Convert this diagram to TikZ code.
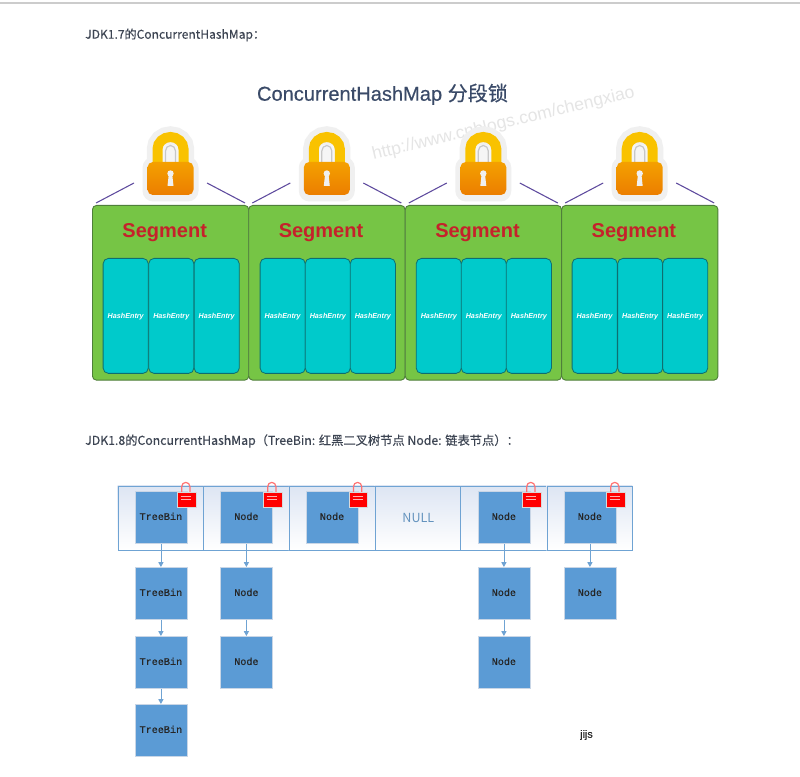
\documentclass[tikz,border=0pt]{standalone}
\usepackage{fontspec}
\setmainfont{Noto Sans CJK SC}
\newfontfamily\hfont{Liberation Sans}
\newfontfamily\tfont[FakeBold=0.35]{Liberation Sans}
\newfontfamily\mfont[FakeBold=0.1]{Liberation Mono}
\newfontfamily\cfont{Noto Sans CJK SC}
\newfontfamily\cbfont[FakeBold=0.35]{Noto Sans CJK SC}
\newfontfamily\dfont[FakeBold=0.3]{Noto Sans CJK SC}
\usetikzlibrary{arrows.meta}
\definecolor{segG}{HTML}{76C545}
\definecolor{segE}{HTML}{4F7F3A}
\definecolor{entC}{HTML}{00CACB}
\definecolor{entE}{HTML}{0F6E70}
\definecolor{segT}{HTML}{C5222B}
\definecolor{titleC}{HTML}{3A4A68}
\definecolor{purp}{HTML}{5E4A9E}
\definecolor{bluN}{HTML}{5B9BD5}
\definecolor{bluL}{HTML}{6FA3D3}
\definecolor{bluE}{HTML}{C9D6E6}
\definecolor{bluP}{HTML}{DDE5F3}
\definecolor{headT}{HTML}{3C4452}
\definecolor{lockA}{HTML}{F9C200}
\definecolor{lockB}{HTML}{F4A000}
\definecolor{lockC}{HTML}{EC7E00}
\tikzset{
  x=0.75pt,y=-0.75pt,
  headtext/.style={anchor=west,inner sep=0pt,text=headT,font=\dfont\fontsize{9.2}{10}\selectfont},
  segbox/.style={draw=segE,line width=0.7pt,fill=segG,rounded corners=3pt,minimum width=117.2pt,minimum height=131pt,inner sep=0pt,anchor=north west},
  segtext/.style={text=segT,inner sep=0pt,font=\hfont\bfseries\fontsize{15}{16}\selectfont},
  entbox/.style={draw=entE,line width=0.6pt,fill=entC,rounded corners=4pt,minimum width=33.9pt,minimum height=86.25pt,inner sep=0pt,anchor=north west},
  enttext/.style={text=white,inner sep=0pt,yshift=-0.7pt,font=\hfont\bfseries\itshape\fontsize{5.4}{6}\selectfont},
  tiepart/.style={draw=purp,line width=0.8pt},
  cellbox/.style={draw=bluL,line width=0.7pt,minimum width=64.3pt,minimum height=48.4pt,inner sep=0pt,anchor=north west},
  nodebox/.style={draw=bluE,line width=0.6pt,fill=bluN,minimum width=39pt,minimum height=39pt,inner sep=0pt,anchor=north west,text=black!85,text height=3.8pt,text depth=0pt,font=\mfont\fontsize{7.6}{8}\selectfont},
  link/.style={draw=bluL,line width=0.6pt,-{Triangle[length=3.6pt,width=3.8pt]}},
  redlock/.style={draw=white!85!black,line width=0.5pt,fill=red,minimum width=14pt,minimum height=11.6pt,inner sep=0pt,anchor=north west},
}
\begin{document}
\begin{tikzpicture}
\useasboundingbox (0,0) rectangle (800,777);
\fill[white] (0,0) rectangle (800,777);
\fill[black!20] (0,2.5) rectangle (800,4);

\node[headtext,font=\dfont\fontsize{9.05}{10}\selectfont] (h1) at (85,35) {JDK1.7的ConcurrentHashMap：};
\node[inner sep=0pt,text=titleC,font=\tfont\fontsize{15.05}{17}\selectfont] (title) at (382.5,94.3) {ConcurrentHashMap {\cbfont 分段锁}};
\node[rotate=13.4,inner sep=0pt,text=black!10,font=\hfont\fontsize{13.15}{14}\selectfont] (mark) at (503.5,124) {http://www.cnblogs.com/chengxiao};

% segments
\foreach \n/\sx in {1/92,2/248.3,3/404.8,4/561.2}{
  \node[segbox] (seg\n) at (\sx,205) {};
  \node[segtext] (segt\n) at (\sx+72.7,233) {Segment};
  \draw[tiepart] (\sx+4,203) -- (\sx+42,183);
  \draw[tiepart] (\sx+115,183) -- (\sx+153,203);
  % padlock
  \begin{scope}[shift={(\sx+78.5,0)}]
    \draw[line width=16pt,black!6] (-13,165) -- (-13,149) arc[start angle=180,end angle=360,x radius=13,y radius=12] -- (13,165);
    \fill[black!6,rounded corners=8pt] (-28,157) rectangle (28,201.5);
    \fill[black!4] (-10,165) rectangle (10,145);
    \draw[line width=7.5pt,lockA] (-13,165) -- (-13,149) arc[start angle=180,end angle=360,x radius=13,y radius=12] -- (13,165);
    \draw[line width=0.9pt,black!22] (-5,162) -- (-5,151) arc[start angle=180,end angle=360,x radius=5,y radius=5.5] -- (5,162);
    \shade[top color=lockB,bottom color=lockC,rounded corners=4pt] (-23,162) rectangle (23,195);
    \fill[black!6] (0,173.5) circle[radius=3.2];
    \fill[black!6] (-1.7,174) -- (1.7,174) -- (3,186) -- (-3,186) -- cycle;
  \end{scope}
}
\foreach \n/\ax/\bx/\cx in {1/102.7/148.3/193.7,2/259.7/304.8/349.8,3/415.8/460.8/505.8,4/571.7/617.2/662.2}{
  \node[entbox] (e\n a) at (\ax,258) {};
  \node[entbox] (e\n b) at (\bx,258) {};
  \node[entbox] (e\n c) at (\cx,258) {};
  \node[enttext] at (e\n a) {HashEntry};
  \node[enttext] at (e\n b) {HashEntry};
  \node[enttext] at (e\n c) {HashEntry};
}

\node[headtext] (h2) at (85,441) {JDK1.8的ConcurrentHashMap（TreeBin: 红黑二叉树节点 Node: 链表节点）：};

% table cells
\foreach \n/\sx in {1/117.7,2/203.3,3/288.8,4/375,5/460.3,6/546.7}{
  \shade[shading angle=45,top color=bluP,middle color=white,bottom color=white] (\sx,485.5) rectangle +(85.7,64.5);
  \node[cellbox] (cell\n) at (\sx,485.5) {};
}
\node[text=bluL!90!black,inner sep=0pt,font=\cfont\fontsize{9.4}{10}\selectfont] (nulltext) at (cell4) {NULL};

% list nodes
\node[nodebox] (a0) at (134.5,491) {TreeBin};
\node[nodebox] (a1) at (134.5,567) {TreeBin};
\node[nodebox] (a2) at (134.5,636) {TreeBin};
\node[nodebox] (a3) at (134.5,704) {TreeBin};
\node[nodebox] (b0) at (220,491) {Node};
\node[nodebox] (b1) at (220,567) {Node};
\node[nodebox] (b2) at (220,636) {Node};
\node[nodebox] (c0) at (305.7,491) {Node};
\node[nodebox] (d0) at (477.5,491) {Node};
\node[nodebox] (d1) at (477.5,567) {Node};
\node[nodebox] (d2) at (477.5,636) {Node};
\node[nodebox] (e0) at (563.5,491) {Node};
\node[nodebox] (e1) at (563.5,567) {Node};

\draw[link] (a0) -- (a1);
\draw[link] (a1) -- (a2);
\draw[link] (a2) -- (a3);
\draw[link] (b0) -- (b1);
\draw[link] (b1) -- (b2);
\draw[link] (d0) -- (d1);
\draw[link] (d1) -- (d2);
\draw[link] (e0) -- (e1);

% red padlocks
\foreach \n/\lx in {1/177,2/263,3/348.8,4/522,5/606}{
  \draw[line width=0.9pt,red!55!white] (\lx+4.7,492) -- (\lx+4.7,486.5) arc[start angle=180,end angle=360,x radius=4.1,y radius=4.1] -- (\lx+12.9,492);
  \node[redlock] (lk\n) at (\lx,491.5) {};
  \draw[white!70!red,line width=0.6pt] (\lx+3.7,496) -- (\lx+13.7,496) (\lx+3.7,499.5) -- (\lx+13.7,499.5);
}

\node[inner sep=0pt,text=black!85,font=\tfont\fontsize{8}{9}\selectfont] (jijs) at (586.5,735) {jijs};
\end{tikzpicture}
\end{document}
